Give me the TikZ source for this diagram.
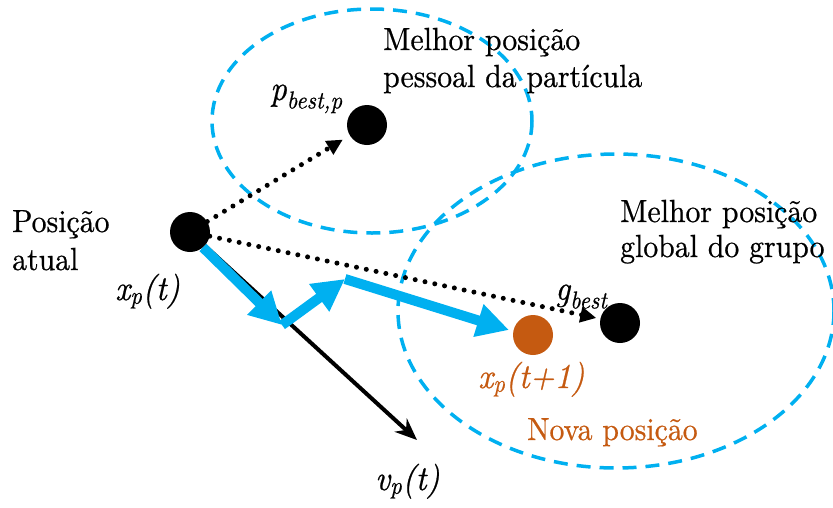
\documentclass[tikz,border=0pt]{standalone}
\usepackage{fontspec}
\setmainfont{lmroman10}[Extension=.otf, UprightFont=*-regular, ItalicFont=*-italic, BoldFont=*-bold, BoldItalicFont=*-bolditalic, FakeStretch=0.93, FakeBold=0.6]
\usetikzlibrary{arrows.meta}
\definecolor{pblue}{HTML}{00B0F0}
\definecolor{porange}{HTML}{C55A11}
\begin{document}
\begin{tikzpicture}[x=1pt,y=-1pt,
  region/.style={draw=pblue, line width=3.5pt, dash pattern=on 14pt off 9pt},
  particle/.style={circle, fill=black, minimum size=40pt, inner sep=0pt},
  lbl/.style={font=\fontsize{32}{37}\selectfont, inner sep=0pt, anchor=base west},
  mlbl/.style={font=\fontsize{35}{40}\selectfont\itshape, inner sep=0pt, anchor=base west},
  dotarrow/.style={line width=5pt, line cap=round, dash pattern=on 0pt off 10pt, -{Triangle[length=16pt,width=15pt]}},
  velarrow/.style={line width=4pt, -{Stealth[length=22pt,width=18pt]}},
  movearrow/.style={draw=pblue, line width=10pt, -{Triangle[length=32pt,width=32pt]}}
]
\useasboundingbox (0,0) rectangle (833,507);
% regions
\draw[region] (372,121) ellipse [x radius=160, y radius=112];
\draw[region] (616,311) ellipse [x radius=218, y radius=157];
% particles
\node[particle] (xp) at (190,232) {};
\node[particle] (pb) at (367,125) {};
\node[particle] (gb) at (620,323) {};
\node[particle, fill=porange] (xn) at (533,335) {};
\coordinate (vend) at (417,440);
\coordinate (c1) at (282,325);
\coordinate (c2) at (345,279);
\coordinate (m3) at (509,330);
% connectors
\draw[dotarrow, shorten >=8pt] (xp) -- (pb);
\draw[dotarrow, shorten >=4pt] (xp) -- (gb);
\draw[velarrow] (xp) -- (vend);
\draw[movearrow] (xp.-50) -- (c1);
\draw[movearrow] (c1) -- (c2);
\draw[movearrow] (c2) -- (m3);
% labels
\node[lbl] (t1a) at (383,50) {Melhor posição};
\node[lbl] (t1b) at (383,87) {pessoal da partícula};
\node[lbl] (t2a) at (620,222) {Melhor posição};
\node[lbl] (t2b) at (620,257) {global do grupo};
\node[lbl] (t3a) at (12,232) {Posição};
\node[lbl] (t3b) at (12,270) {atual};
\node[mlbl] (lxp) at (115,300) {x\textsubscript{p}(t)};
\node[mlbl] (lpb) at (270,100) {p\textsubscript{best,p}};
\node[mlbl] (lgb) at (555,300) {g\textsubscript{best}};
\node[mlbl, text=porange] (lxn) at (478,388) {x\textsubscript{p}(t+1)};
\node[lbl, text=porange] (lnova) at (527,440) {Nova posição};
\node[mlbl] (lvp) at (375,490) {v\textsubscript{p}(t)};
\end{tikzpicture}
\end{document}
